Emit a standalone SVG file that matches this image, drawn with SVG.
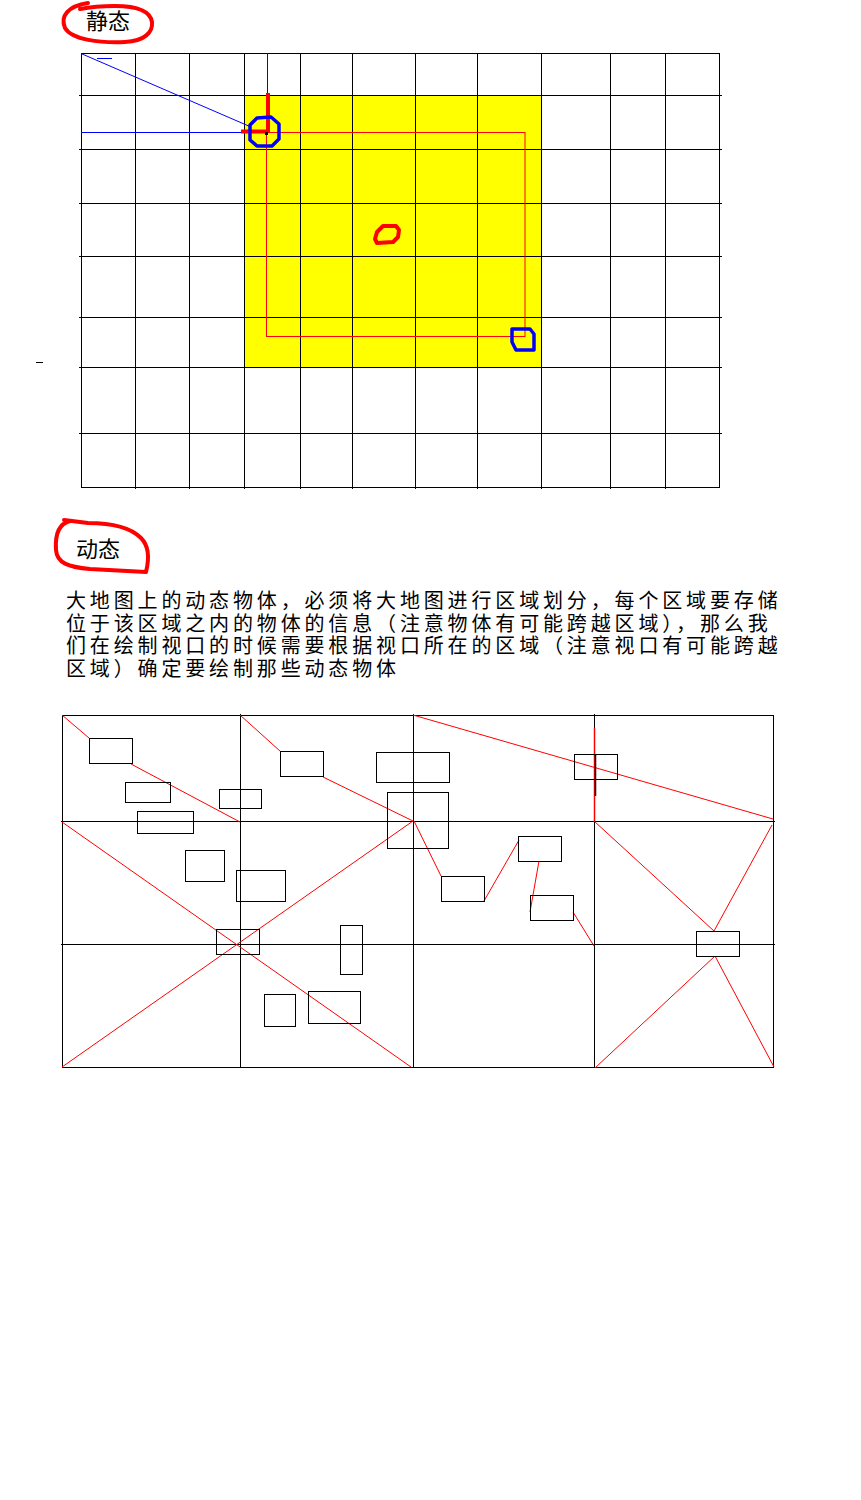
<svg xmlns="http://www.w3.org/2000/svg" width="861" height="1500" viewBox="0 0 861 1500">
<style>
.g{stroke:#000;stroke-width:1;fill:none;shape-rendering:crispEdges}
.thin-red{stroke:#f00;stroke-width:1;fill:none}
.thin-blue{stroke:#00f;stroke-width:1;fill:none}
.hand-red{stroke:#f00;stroke-width:4;fill:none;stroke-linejoin:round;stroke-linecap:round}
.hand-blue{stroke:#00f;stroke-width:3.5;fill:none;stroke-linejoin:round;stroke-linecap:round}
.obj{stroke:#000;stroke-width:1;fill:none;shape-rendering:crispEdges}
.conn{stroke:#f00;stroke-width:1;fill:none}
.lbl{font-family:"Liberation Sans","Noto Sans CJK SC","Noto Sans CJK JP",sans-serif;fill:#000}
</style>
<rect width="861" height="1500" fill="#fff"/>

<!-- Static section -->
<g id="static-label">
<path class="hand-red" d="M88,3 C68,6 60,16 65,28 C72,40 100,43 125,42 C145,41 153,32 152,22 C150,10 135,6 115,6 C100,6 90,7 80,9"/>
<text class="lbl" x="86" y="29" font-size="22">静态</text>
</g>

<g id="static-viewport">
<rect x="244" y="95" width="297" height="272" fill="#ff0"/>
</g>

<g id="static-grid">
<path class="g" d="M81.5,53 V487.5 M135.5,53 V489 M189.5,53 V489 M244.5,53 V489 M300.5,53 V489 M352.5,53 V489 M415.5,53 V489 M477.5,53 V489 M541.5,53 V489 M610.5,53 V489 M665.5,53 V489 M719.5,53 V487.5"/>
<path class="g" d="M81,53.5 H720 M79,95.5 H722 M79,149.5 H722 M79,203.5 H722 M79,256.5 H722 M79,317.5 H722 M79,367.5 H722 M79,433.5 H722 M81,487.5 H720"/>
<line class="g" x1="36" y1="362.5" x2="43" y2="362.5"/>
</g>

<g id="static-marks">
<rect class="thin-red" x="266.5" y="132.5" width="258.5" height="204"/>
<line class="thin-blue" x1="267.5" y1="53" x2="267.5" y2="94"/>
<line class="thin-blue" x1="81" y1="53.5" x2="251" y2="127"/>
<line class="thin-blue" x1="81" y1="132.5" x2="242" y2="132.5"/>
<line class="thin-blue" x1="97" y1="58.5" x2="112" y2="58.5"/>
<path d="M268,93 V133 M241,131.5 H268" stroke="#f00" stroke-width="4" fill="none"/>
<rect x="265" y="132" width="3" height="3" fill="#000"/>
<path class="hand-blue" d="M257,118 L271,117 L279,124 L279,139 L272,146 L257,146 L250,140 L250,125 Z"/>
<path class="hand-blue" d="M512,329 L530,329 L534,334 L534,350 L516,350 L512,342 Z"/>
<path class="hand-red" d="M383,226 L396,226 L399,230 L398,237 L393,242 L377,243 L375,239 L377,232 Z" stroke-width="3.5"/>
</g>

<!-- Dynamic section -->
<g id="dynamic-label">
<path class="hand-red" d="M70,521 C58,524 55,536 56,550 C57,563 68,567 90,569 L146,572 C149,560 149,546 141,538 C131,528 112,523 88,523 L64,520"/>
<text class="lbl" x="76" y="557" font-size="22">动态</text>
</g>

<g id="description" class="lbl" font-size="20" letter-spacing="3.85">
<text x="66" y="608">大地图上的动态物体，必须将大地图进行区域划分，每个区域要存储</text>
<text x="66" y="630.5">位于该区域之内的物体的信息（注意物体有可能跨越区域），那么我</text>
<text x="66" y="653">们在绘制视口的时候需要根据视口所在的区域（注意视口有可能跨越</text>
<text x="66" y="676">区域）确定要绘制那些动态物体</text>
</g>

<g id="dynamic-grid">
<path class="g" d="M62.5,715 V1068 M240.5,714 V1068 M413.5,714 V1068 M594.5,714 V728 M594.5,821 V1068 M773.5,715 V1068"/>
<path class="g" d="M62,715.5 H774 M61,821.5 H775 M61,944.5 H775 M62,1067.5 H774"/>
</g>

<g id="connectors">
<line class="conn" x1="62" y1="715" x2="89" y2="738"/>
<line class="conn" x1="131" y1="764" x2="240" y2="822"/>
<line class="conn" x1="240" y1="715" x2="280" y2="751"/>
<line class="conn" x1="323" y1="777" x2="413" y2="821"/>
<line class="conn" x1="62" y1="822" x2="411" y2="1067"/>
<line class="conn" x1="62" y1="1067" x2="413" y2="821"/>
<line class="conn" x1="413" y1="715" x2="773" y2="819"/>
<line class="conn" x1="414" y1="821" x2="441" y2="876"/>
<line class="conn" x1="484" y1="901" x2="519" y2="840"/>
<line class="conn" x1="539" y1="861" x2="530" y2="912"/>
<line class="conn" x1="573" y1="912" x2="594" y2="946"/>
<line class="conn" x1="594" y1="821" x2="714" y2="931"/>
<line class="conn" x1="714" y1="931" x2="772" y2="825"/>
<line class="conn" x1="715" y1="956" x2="595" y2="1068"/>
<line class="conn" x1="715" y1="956" x2="774" y2="1067"/>
<line x1="594.5" y1="728" x2="594.5" y2="821" stroke="#f00" stroke-width="1.5"/>
<line x1="595.5" y1="755" x2="595.5" y2="796" stroke="#000" stroke-width="1.5"/>
</g>

<g id="obj1"><rect class="obj" x="89.5" y="738.5" width="43" height="25"/></g>
<g id="obj2"><rect class="obj" x="125.5" y="782.5" width="45" height="20"/></g>
<g id="obj3"><rect class="obj" x="137.5" y="811.5" width="56" height="22"/></g>
<g id="obj4"><rect class="obj" x="219.5" y="789.5" width="42" height="19"/></g>
<g id="obj5"><rect class="obj" x="280.5" y="751.5" width="43" height="25"/></g>
<g id="obj6"><rect class="obj" x="376.5" y="752.5" width="73" height="30"/></g>
<g id="obj7"><rect class="obj" x="387.5" y="792.5" width="61" height="56"/></g>
<g id="obj8"><rect class="obj" x="185.5" y="850.5" width="39" height="31"/></g>
<g id="obj9"><rect class="obj" x="236.5" y="870.5" width="49" height="31"/></g>
<g id="obj10"><rect class="obj" x="216.5" y="929.5" width="43" height="25"/></g>
<g id="obj11"><rect class="obj" x="340.5" y="925.5" width="22" height="49"/></g>
<g id="obj12"><rect class="obj" x="264.5" y="994.5" width="31" height="32"/></g>
<g id="obj13"><rect class="obj" x="308.5" y="991.5" width="52" height="32"/></g>
<g id="obj14"><rect class="obj" x="574.5" y="754.5" width="43" height="25"/></g>
<g id="obj15"><rect class="obj" x="518.5" y="836.5" width="43" height="25"/></g>
<g id="obj16"><rect class="obj" x="441.5" y="876.5" width="43" height="25"/></g>
<g id="obj17"><rect class="obj" x="530.5" y="895.5" width="43" height="25"/></g>
<g id="obj18"><rect class="obj" x="696.5" y="931.5" width="43" height="25"/></g>
</svg>
